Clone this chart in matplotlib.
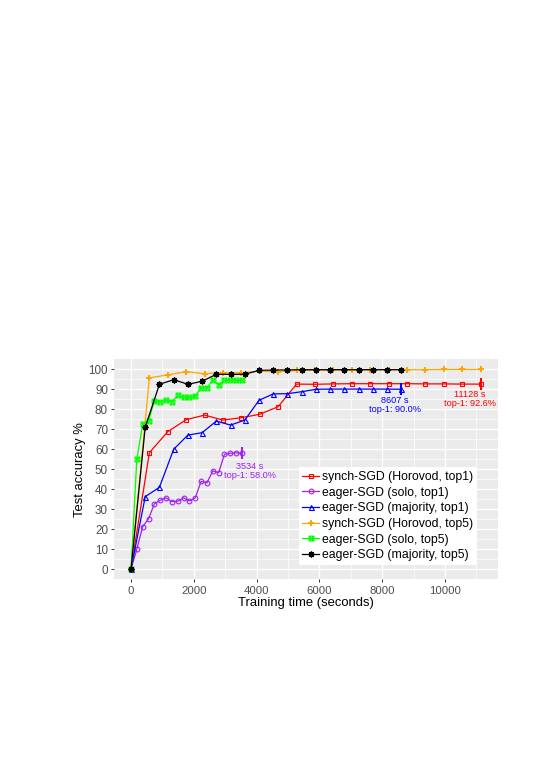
import matplotlib
matplotlib.use('Agg')
import matplotlib.pyplot as plt
import numpy as np
from matplotlib.path import Path

plt.rcParams['font.family'] = ['Liberation Sans', 'DejaVu Sans']

# epochs are evenly spaced in time for each run, end times from the labels
synch_end = 11128
majority_end = 8607
solo_end = 3534

synch_top1 = [0, 58.3, 68.8, 74.8, 77.1, 74.6, 75.8, 77.5, 81.3, 92.6,
              92.5, 92.7, 92.8, 92.8, 92.8, 92.8, 92.7, 92.7, 92.6, 92.6]
solo_top1 = [0, 10.0, 21.3, 25.2, 32.7, 34.5, 35.7, 33.8, 34.0, 35.7,
             34.2, 35.7, 44.0, 43.2, 49.2, 48.3, 57.5, 58.0, 58.2, 58.0]
majority_top1 = [0, 36.3, 41.0, 60.0, 67.1, 68.3, 74.1, 72.1, 74.6, 84.5,
                 87.7, 87.8, 88.8, 90.0, 90.1, 90.1, 90.1, 90.1, 90.1, 90.0]
synch_top5 = [0, 95.7, 97.2, 98.8, 97.8, 98.3, 98.3, 99.0, 98.8, 99.4,
              99.5, 99.6, 99.7, 99.7, 99.8, 99.8, 99.8, 99.9, 99.9, 99.9]
solo_top5 = [0, 55.0, 72.6, 74.1, 84.2, 83.5, 84.6, 83.8, 86.9, 85.9,
             85.9, 86.5, 90.8, 90.8, 94.5, 92.2, 94.5, 94.5, 94.5, 94.5]
majority_top5 = [0, 71.0, 92.5, 94.8, 92.5, 94.0, 97.5, 97.5, 97.5, 99.5,
                 99.6, 99.7, 99.8, 99.8, 99.8, 99.8, 99.8, 99.8, 99.8, 99.8]

labels = ["synch-SGD (Horovod, top1)", "eager-SGD (solo, top1)",
          "eager-SGD (majority, top1)", "synch-SGD (Horovod, top5)",
          "eager-SGD (solo, top5)", "eager-SGD (majority, top5)"]
colors = ['#FF0000', '#A020F0', '#0000FF', '#FFA500', '#00FF00', '#000000']

# square with a cross inside (ggplot shape 7)
sq_cross = Path([(-1, -1), (1, -1), (1, 1), (-1, 1), (-1, -1), (1, 1), (-1, 1), (1, -1)],
                [Path.MOVETO, Path.LINETO, Path.LINETO, Path.LINETO, Path.LINETO,
                 Path.LINETO, Path.MOVETO, Path.LINETO])


def times(end, n):
    return np.linspace(0, end, n)


fig = plt.figure(figsize=(5.4, 7.63), dpi=100)
ax = fig.add_axes([0.2102, 0.2408, 0.712, 0.2883])
ax.set_facecolor('#EBEBEB')
for s in ax.spines.values():
    s.set_visible(False)

series = [
    (times(synch_end, len(synch_top1)), synch_top1, 's', 3.2, 0.8),
    (times(solo_end, len(solo_top1)), solo_top1, 'o', 3.4, 0.8),
    (times(majority_end, len(majority_top1)), majority_top1, '^', 3.6, 0.8),
    (times(synch_end, len(synch_top5)), synch_top5, '+', 4.2, 1.4),
    (times(solo_end, len(solo_top5)), solo_top5, sq_cross, 3.4, 0.8),
    (times(majority_end, len(majority_top5)), majority_top5, (8, 2, 0), 4.2, 1.0),
]

handles = []
for (x, y, m, ms, mew), c, lab in zip(series, colors, labels):
    h, = ax.plot(x, y, color=c, lw=0.9, marker=m, ms=ms, mew=mew,
                 mfc='none', mec=c, label=lab, zorder=3)
    handles.append(h)

# end-of-training bars for the top1 runs
ax.plot([synch_end], [synch_top1[-1]], marker='|', ms=9, mew=1.5, color=colors[0], zorder=4)
ax.plot([majority_end], [majority_top1[-1]], marker='|', ms=8, mew=1.5, color=colors[2], zorder=4)
ax.plot([solo_end], [solo_top1[-1]], marker='|', ms=8, mew=1.5, color=colors[1], zorder=4)

ax.text(10790, 85, "11128 s\ntop-1: 92.6%", color=colors[0], fontsize=6.6,
        ha='center', va='center', multialignment='center', linespacing=1.0)
ax.text(8402, 82, "8607 s\ntop-1: 90.0%", color=colors[2], fontsize=6.6,
        ha='center', va='center', multialignment='center', linespacing=1.0)
ax.text(3787, 49, "3534 s\ntop-1: 58.0%", color=colors[1], fontsize=6.6,
        ha='center', va='center', multialignment='center', linespacing=1.0)

ax.set_xlim(-556.4, 11684.4)
ax.set_ylim(-5, 105)
ax.set_xticks(np.arange(0, 10001, 2000))
ax.set_xticks(np.arange(1000, 11001, 2000), minor=True)
ax.set_yticks(np.arange(0, 101, 10))
ax.set_yticks(np.arange(5, 100, 10), minor=True)
ax.grid(which='major', color='white', lw=1.0, zorder=0)
ax.grid(which='minor', color='white', lw=0.5, zorder=0)
ax.set_axisbelow(True)
ax.tick_params(which='major', length=2.5, width=0.7, color='#333333',
               labelcolor='#4D4D4D', pad=1.5)
ax.tick_params(axis='y', which='major', labelsize=8.4)
ax.tick_params(axis='x', which='major', labelsize=8.2, pad=2.2)
ax.tick_params(which='minor', length=0)

ax.set_xlabel("Training time (seconds)", fontsize=9.4, labelpad=1)
ax.set_ylabel("Test accuracy %", fontsize=9.4, labelpad=2)

leg = ax.legend(handles=handles, loc='lower right', bbox_to_anchor=(0.9446, 0.065),
                fontsize=8.8, frameon=True, fancybox=False, framealpha=1,
                handlelength=1.4, handletextpad=0.2, labelspacing=0.3,
                borderpad=0.3, borderaxespad=0)
leg.get_frame().set_edgecolor('none')
leg.get_frame().set_facecolor('white')

fig.savefig('out.png', dpi=100)
